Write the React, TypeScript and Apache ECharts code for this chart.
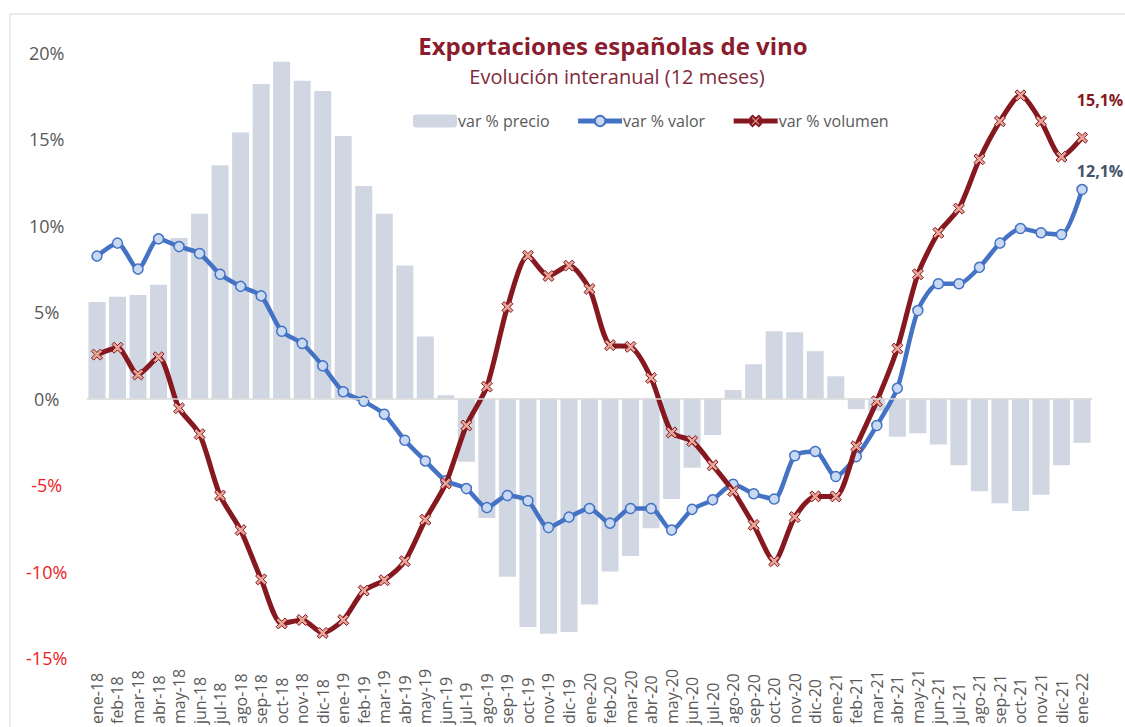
import React, { useEffect, useRef } from "react";
import * as echarts from "echarts";

const categories = [
  "ene-18", "feb-18", "mar-18", "abr-18", "may-18", "jun-18", "jul-18", "ago-18", "sep-18", "oct-18", "nov-18", "dic-18",
  "ene-19", "feb-19", "mar-19", "abr-19", "may-19", "jun-19", "jul-19", "ago-19", "sep-19", "oct-19", "nov-19", "dic-19",
  "ene-20", "feb-20", "mar-20", "abr-20", "may-20", "jun-20", "jul-20", "ago-20", "sep-20", "oct-20", "nov-20", "dic-20",
  "ene-21", "feb-21", "mar-21", "abr-21", "may-21", "jun-21", "jul-21", "ago-21", "sep-21", "oct-21", "nov-21", "dic-21",
  "ene-22",
];

const precio = [
  5.6, 5.9, 6.0, 6.6, 9.3, 10.7, 13.5, 15.4, 18.2, 19.5, 18.4, 17.8,
  15.2, 12.3, 10.7, 7.7, 3.6, 0.2, -3.65, -6.9, -10.3, -13.2, -13.6, -13.5,
  -11.9, -10.0, -9.1, -7.5, -5.8, -4.0, -2.1, 0.5, 2.0, 3.9, 3.85, 2.75,
  1.3, -0.6, -0.7, -2.2, -2.0, -2.65, -3.85, -5.35, -6.05, -6.5, -5.55, -3.85,
  -2.55,
];

const valor = [
  8.25, 9.0, 7.5, 9.25, 8.8, 8.4, 7.2, 6.5, 5.95, 3.9, 3.2, 1.9,
  0.4, -0.15, -0.9, -2.4, -3.6, -4.75, -5.2, -6.3, -5.6, -5.9, -7.45, -6.85,
  -6.35, -7.2, -6.35, -6.35, -7.6, -6.4, -5.85, -4.95, -5.5, -5.8, -3.3, -3.05,
  -4.5, -3.35, -1.55, 0.6, 5.1, 6.65, 6.65, 7.6, 9.0, 9.85, 9.6, 9.5,
  12.1,
];

const volumen = [
  2.55, 2.95, 1.4, 2.4, -0.55, -2.05, -5.6, -7.6, -10.45, -13.0, -12.8, -13.55,
  -12.8, -11.1, -10.5, -9.4, -7.0, -4.9, -1.55, 0.7, 5.3, 8.27, 7.1, 7.7,
  6.35, 3.1, 3.0, 1.2, -1.95, -2.45, -3.85, -5.35, -7.3, -9.4, -6.85, -5.65,
  -5.65, -2.75, -0.15, 2.9, 7.2, 9.6, 11.0, 13.85, 16.05, 17.55, 16.05, 14.0,
  15.1,
];

const yTicks = { min: -15, max: 20, interval: 5 };

const seriesNames = ["var % precio", "var % valor", "var % volumen"];
const titleText = "Exportaciones españolas de vino";
const subtitleText = "Evolución interanual (12 meses)";

const FONT = "'Open Sans', 'Noto Sans', sans-serif";
const RED = "#861820";
const BLUE = "#4472C4";
const xMarker =
  "path://M2,0 L5,3 L8,0 L10,2 L7,5 L10,8 L8,10 L5,7 L2,10 L0,8 L3,5 L0,2 Z";

const fmtPct = (v: number) => v.toFixed(1).replace(".", ",") + "%";

export default function App() {
  const ref = useRef<HTMLDivElement>(null);

  useEffect(() => {
    if (!ref.current) return;
    const chart = echarts.init(ref.current, undefined, { renderer: "svg" });
    const last = categories.length - 1;

    const valorData = valor.map((v, i) =>
      i === last
        ? {
            value: v,
            label: {
              show: true,
              position: "top",
              offset: [18, 0],
              formatter: () => fmtPct(v),
              color: "#44546A",
              fontWeight: "bold",
              fontSize: 16,
              fontFamily: FONT,
            },
          }
        : v
    );
    const volumenData = volumen.map((v, i) =>
      i === last
        ? {
            value: v,
            label: {
              show: true,
              position: "top",
              offset: [18, -19],
              formatter: () => fmtPct(v),
              color: RED,
              fontWeight: "bold",
              fontSize: 16,
              fontFamily: FONT,
            },
          }
        : v
    );

    chart.setOption({
      animation: false,
      backgroundColor: "#ffffff",
      graphic: [
        {
          type: "rect",
          z: -10,
          shape: { x: 10, y: 14, width: 1300, height: 900 },
          style: { fill: "none", stroke: "#D9D9D9", lineWidth: 1 },
        },
        {
          type: "text",
          x: 613,
          y: 45,
          style: {
            text: titleText,
            font: `bold 24px ${FONT}`,
            fill: "#8B1C2E",
            textAlign: "center",
            textVerticalAlign: "middle",
          },
        },
        {
          type: "text",
          x: 617,
          y: 76,
          style: {
            text: subtitleText,
            font: `20px ${FONT}`,
            fill: "#7F2A3A",
            textAlign: "center",
            textVerticalAlign: "middle",
          },
        },
      ],
      legend: {
        left: 408,
        top: 108,
        itemWidth: 44,
        itemHeight: 13,
        itemGap: 26,
        lineStyle: { width: 5 },
        textStyle: { color: "#595959", fontSize: 16, fontFamily: FONT, padding: [0, 0, 0, -4] },
        data: seriesNames,
      },
      grid: { left: 86.7, right: 32.7, top: 53, bottom: 68 },
      xAxis: {
        type: "category",
        data: categories,
        boundaryGap: true,
        axisLine: { show: false },
        axisTick: { show: false },
        axisLabel: {
          interval: 0,
          rotate: 90,
          align: "left",
          verticalAlign: "middle",
          margin: 66,
          color: "#595959",
          fontSize: 16,
          fontFamily: FONT,
        },
      },
      yAxis: {
        type: "value",
        min: yTicks.min,
        max: yTicks.max,
        interval: yTicks.interval,
        splitLine: { show: false },
        axisLine: { show: false },
        axisTick: { show: false },
        axisLabel: {
          align: "center",
          margin: 40,
          formatter: (v: number) => (v < 0 ? `{neg|${v}%}` : `{pos|${v}%}`),
          rich: {
            neg: { color: "#EE1C25", fontSize: 18, fontFamily: FONT },
            pos: { color: "#595959", fontSize: 18, fontFamily: FONT },
          },
        },
      },
      series: [
        {
          name: seriesNames[0],
          type: "bar",
          data: precio,
          barCategoryGap: "17%",
          itemStyle: { color: "#D0D7E3" },
          z: 1,
          markLine: {
            silent: true,
            symbol: "none",
            label: { show: false },
            lineStyle: { color: "#D9D9D9", width: 1.5, type: "solid" },
            data: [{ yAxis: 0 }],
          },
        },
        {
          name: seriesNames[1],
          type: "line",
          data: valorData,
          smooth: 0.25,
          symbol: "circle",
          symbolSize: 10,
          showAllSymbol: true,
          lineStyle: { color: BLUE, width: 4.5 },
          itemStyle: { color: "#C9D9F2", borderColor: BLUE, borderWidth: 1.5 },
          z: 3,
        },
        {
          name: seriesNames[2],
          type: "line",
          data: volumenData,
          smooth: 0.25,
          symbol: xMarker,
          symbolSize: 11,
          showAllSymbol: true,
          lineStyle: { color: RED, width: 5 },
          itemStyle: { color: "#E9A79A", borderColor: RED, borderWidth: 1 },
          z: 4,
        },
      ],
    });

    return () => chart.dispose();
  }, []);

  return (
    <div
      ref={ref}
      style={{ position: "absolute", left: 0, top: 0, width: 1125, height: 727 }}
    />
  );
}
